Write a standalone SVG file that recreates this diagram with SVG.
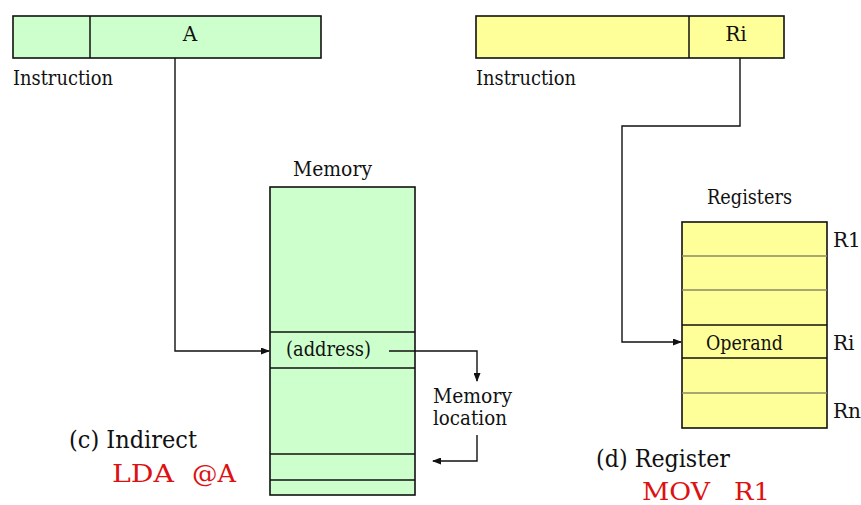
<svg xmlns="http://www.w3.org/2000/svg" width="861" height="505" viewBox="0 0 861 505">
<style>
text{fill:#111;font-family:'DejaVu Serif',serif}
.s{font-size:20px}
.b{font-size:24px}
.r{fill:#dd1111}
.box{stroke:#111;stroke-width:1.6}
.g{fill:#ccffcc}
.y{fill:#ffff99}
.ln{stroke:#111;stroke-width:1.5;fill:none}
.lt{stroke:#8a8a66;stroke-width:1.3;fill:none}
.c{stroke:#111;stroke-width:1.4;fill:none}
</style>
<defs>
<marker id="ah" markerWidth="9" markerHeight="7" refX="8" refY="3.5" orient="auto" markerUnits="userSpaceOnUse">
<path d="M0,0 L9,3.5 L0,7 Z" fill="#111"/>
</marker>
</defs>
<rect width="861" height="505" fill="#fff"/>
<g id="instr-left">
<rect class="box g" x="13" y="16" width="308" height="42"/>
<line class="ln" x1="90" y1="16" x2="90" y2="58"/>
<text class="s" x="190" y="41" text-anchor="middle">A</text>
<text class="s" x="13" y="85" textLength="100" lengthAdjust="spacingAndGlyphs">Instruction</text>
</g>
<g id="memory">
<text class="s" x="293" y="176" textLength="79" lengthAdjust="spacingAndGlyphs">Memory</text>
<rect class="box g" x="270" y="187" width="145" height="308"/>
<line class="ln" x1="270" y1="332" x2="415" y2="332"/>
<line class="ln" x1="270" y1="368" x2="415" y2="368"/>
<line class="ln" x1="270" y1="454" x2="415" y2="454"/>
<line class="ln" x1="270" y1="480" x2="415" y2="480"/>
<text class="s" x="286" y="356" textLength="85" lengthAdjust="spacingAndGlyphs">(address)</text>
</g>
<g id="memloc">
<text class="s" x="433" y="403" textLength="79" lengthAdjust="spacingAndGlyphs">Memory</text>
<text class="s" x="433" y="425" textLength="74" lengthAdjust="spacingAndGlyphs">location</text>
</g>
<g id="label-c">
<text class="b" x="69" y="448" textLength="128" lengthAdjust="spacingAndGlyphs">(c) Indirect</text>
<text class="b r" x="112" y="482" textLength="62" lengthAdjust="spacingAndGlyphs">LDA</text>
<text class="b r" x="192" y="482" textLength="44" lengthAdjust="spacingAndGlyphs">@A</text>
</g>
<g id="instr-right">
<rect class="box y" x="476" y="16" width="308" height="42"/>
<line class="ln" x1="689" y1="16" x2="689" y2="58"/>
<text class="s" x="736" y="41" text-anchor="middle">Ri</text>
<text class="s" x="476" y="85" textLength="100" lengthAdjust="spacingAndGlyphs">Instruction</text>
</g>
<g id="registers">
<text class="s" x="707" y="204" textLength="85" lengthAdjust="spacingAndGlyphs">Registers</text>
<rect class="box y" x="682" y="222" width="145" height="206"/>
<line class="lt" x1="682" y1="256" x2="827" y2="256"/>
<line class="lt" x1="682" y1="290" x2="827" y2="290"/>
<line class="ln" x1="682" y1="325" x2="827" y2="325"/>
<line class="ln" x1="682" y1="358" x2="827" y2="358"/>
<line class="lt" x1="682" y1="393" x2="827" y2="393"/>
<text class="s" x="706" y="350" textLength="77" lengthAdjust="spacingAndGlyphs">Operand</text>
<text class="s" x="833" y="247">R1</text>
<text class="s" x="833" y="350">Ri</text>
<text class="s" x="833" y="418">Rn</text>
</g>
<g id="label-d">
<text class="b" x="596" y="467" textLength="134" lengthAdjust="spacingAndGlyphs">(d) Register</text>
<text class="b r" x="642" y="500" textLength="68" lengthAdjust="spacingAndGlyphs">MOV</text>
<text class="b r" x="734" y="500" textLength="36" lengthAdjust="spacingAndGlyphs">R1</text>
</g>
<g id="connectors">
<polyline class="c" points="175,58 175,351 269,351" marker-end="url(#ah)"/>
<polyline class="c" points="389,351 477,351 477,381" marker-end="url(#ah)"/>
<polyline class="c" points="477,435 477,461 433,461" marker-end="url(#ah)"/>
<polyline class="c" points="740,58 740,126 622,126 622,342 681,342" marker-end="url(#ah)"/>
</g>
</svg>
